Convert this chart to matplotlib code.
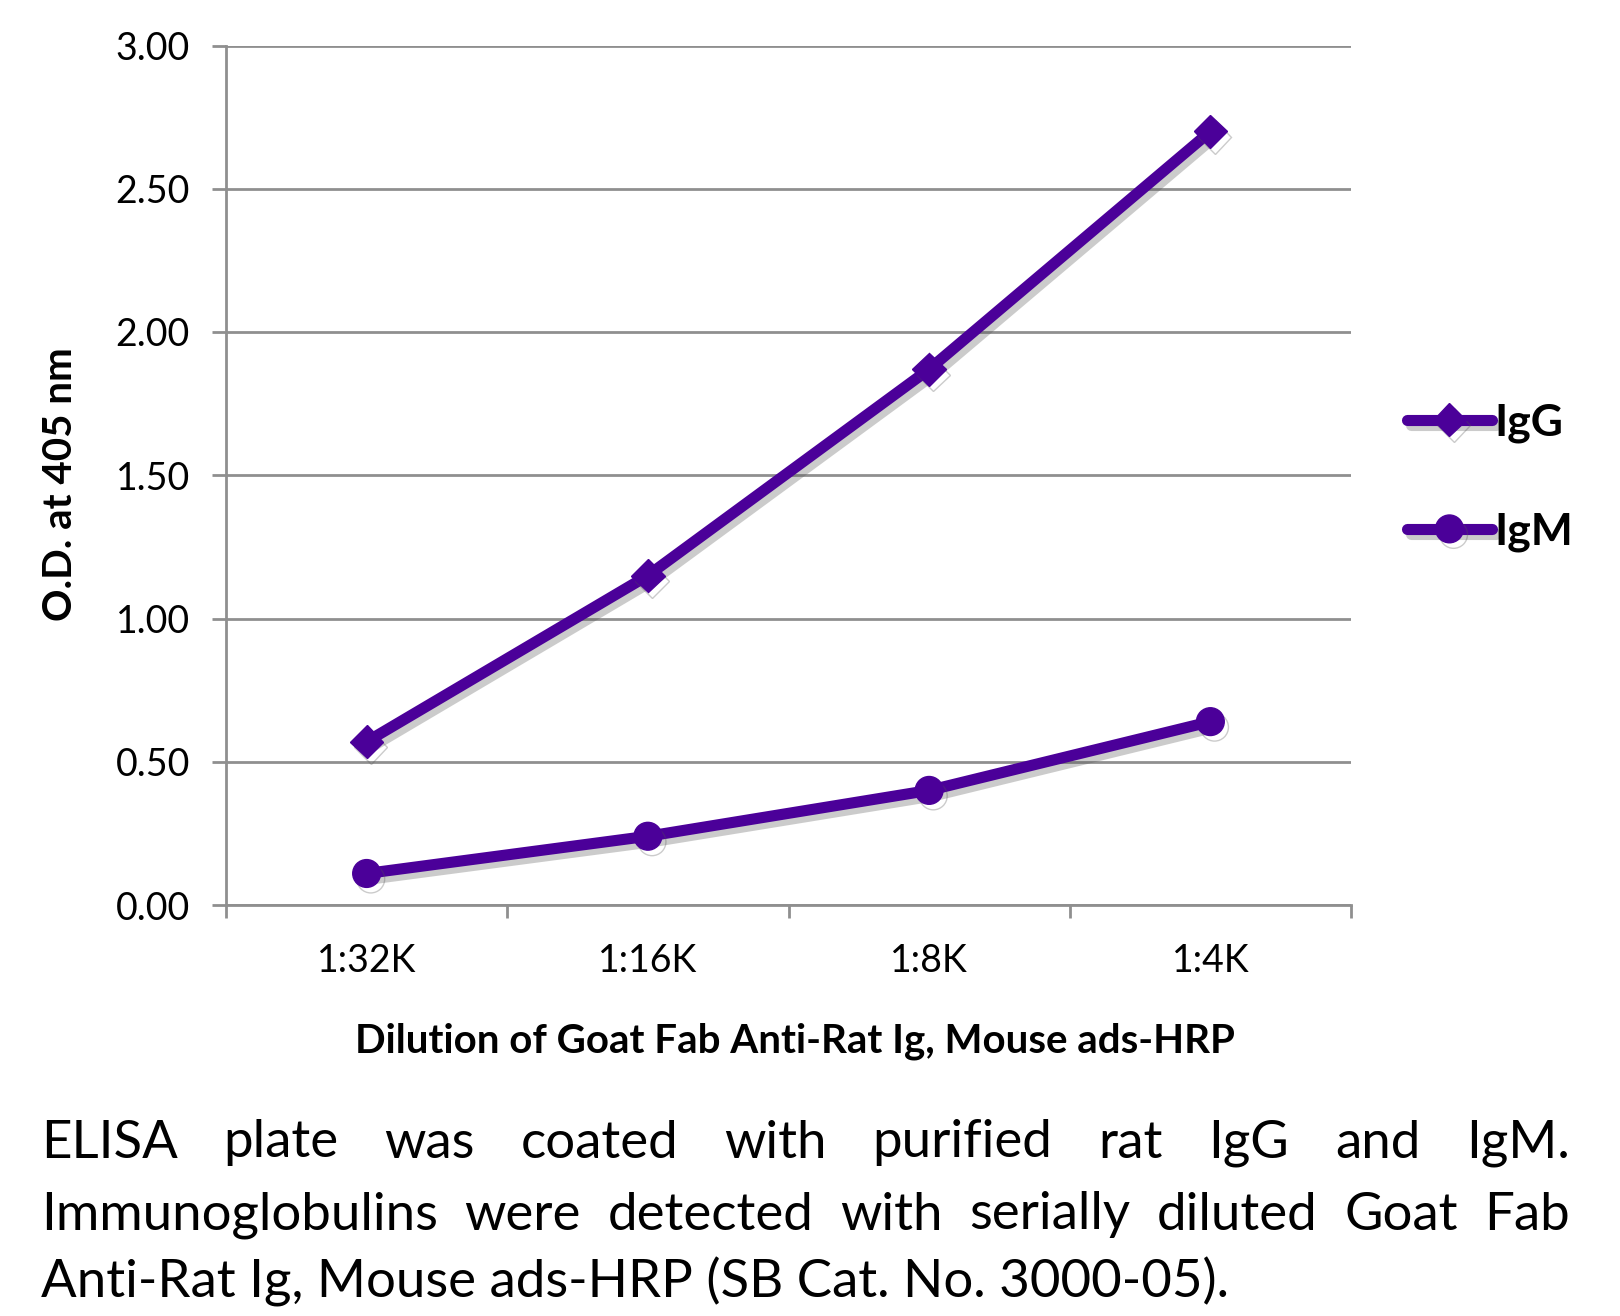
import matplotlib
matplotlib.use("Agg")
import matplotlib.pyplot as plt
import matplotlib.patheffects as pe

plt.rcParams['font.family'] = ['Lato', 'DejaVu Sans']

dilutions = ['1:32K', '1:16K', '1:8K', '1:4K']
igg = [0.57, 1.15, 1.87, 2.70]
igm = [0.11, 0.24, 0.40, 0.64]
yticks = [0.0, 0.5, 1.0, 1.5, 2.0, 2.5, 3.0]
caption_lines = [
    "ELISA plate was coated with purified rat IgG and IgM.",
    "Immunoglobulins were detected with serially diluted Goat Fab",
    "Anti-Rat Ig, Mouse ads-HRP (SB Cat. No. 3000-05).",
]

purple = '#4B0099'
grid_col = '#8f8f8f'

W, H = 1620, 1316
fig = plt.figure(figsize=(W / 100, H / 100), dpi=100)
ax = fig.add_axes([226 / W, 1 - 905 / H, (1351 - 226) / W, (905 - 45.5) / H])

shadow = [pe.SimpleLineShadow(offset=(3, -4), shadow_color='#555555', alpha=0.3), pe.Normal()]
xs = [i + 0.5 for i in range(len(dilutions))]
ax.plot(xs, igg, color=purple, lw=8, marker='D', ms=17, label='IgG',
        solid_capstyle='round', path_effects=shadow)
ax.plot(xs, igm, color=purple, lw=8, marker='o', ms=20, label='IgM',
        solid_capstyle='round', path_effects=shadow)

ax.set_xlim(0, len(dilutions))
ax.set_ylim(0, 3.0)
ax.set_yticks(yticks)
ax.set_yticklabels([f"{v:.2f}" for v in yticks])
ax.set_xticks(range(len(dilutions) + 1))
ax.set_xticklabels([])
ax.set_xticks(xs, minor=True)
ax.set_xticklabels(dilutions, minor=True)
ax.tick_params(axis='x', which='major', length=9, width=2, color=grid_col, direction='out')
ax.tick_params(axis='x', which='minor', length=0, pad=27, labelsize=27)
ax.tick_params(axis='y', length=10, width=2, color=grid_col, pad=16, labelsize=27)

ax.grid(axis='y', color=grid_col, lw=2)
ax.set_axisbelow(True)
for s in ['top', 'right']:
    ax.spines[s].set_visible(False)
for s in ['left', 'bottom']:
    ax.spines[s].set_color(grid_col)
    ax.spines[s].set_linewidth(2)

ax.set_ylabel("O.D. at 405 nm", fontsize=29, fontweight='bold')
ax.yaxis.set_label_coords(-0.131, 0.49)
fig.text(795 / W, 1 - 1041 / H, "Dilution of Goat Fab Anti-Rat Ig, Mouse ads-HRP",
         ha='center', va='center', fontsize=29, fontweight='bold')

leg = ax.legend(loc='center left', bbox_to_anchor=(1385 / W, 1 - 477 / H),
                bbox_transform=fig.transFigure, frameon=False, handlelength=1.9,
                handletextpad=0.05, labelspacing=1.55, borderpad=0,
                prop={'size': 32, 'weight': 'bold'})

# caption, first two lines justified to the full width
left, right = 41, 1570
line_y = [1143, 1215, 1282]
renderer = fig.canvas.get_renderer()
for i, line in enumerate(caption_lines):
    y = 1 - line_y[i] / H
    if i == len(caption_lines) - 1:
        fig.text(left / W, y, line, ha='left', va='center', fontsize=38)
        continue
    words = line.split()
    texts = [fig.text(0, y, w, ha='left', va='center', fontsize=38) for w in words]
    widths = [t.get_window_extent(renderer).width for t in texts]
    gap = (right - left - sum(widths)) / (len(words) - 1)
    x = left
    for t, w in zip(texts, widths):
        t.set_x(x / W)
        x += w + gap

fig.savefig("out.png", dpi=100)
